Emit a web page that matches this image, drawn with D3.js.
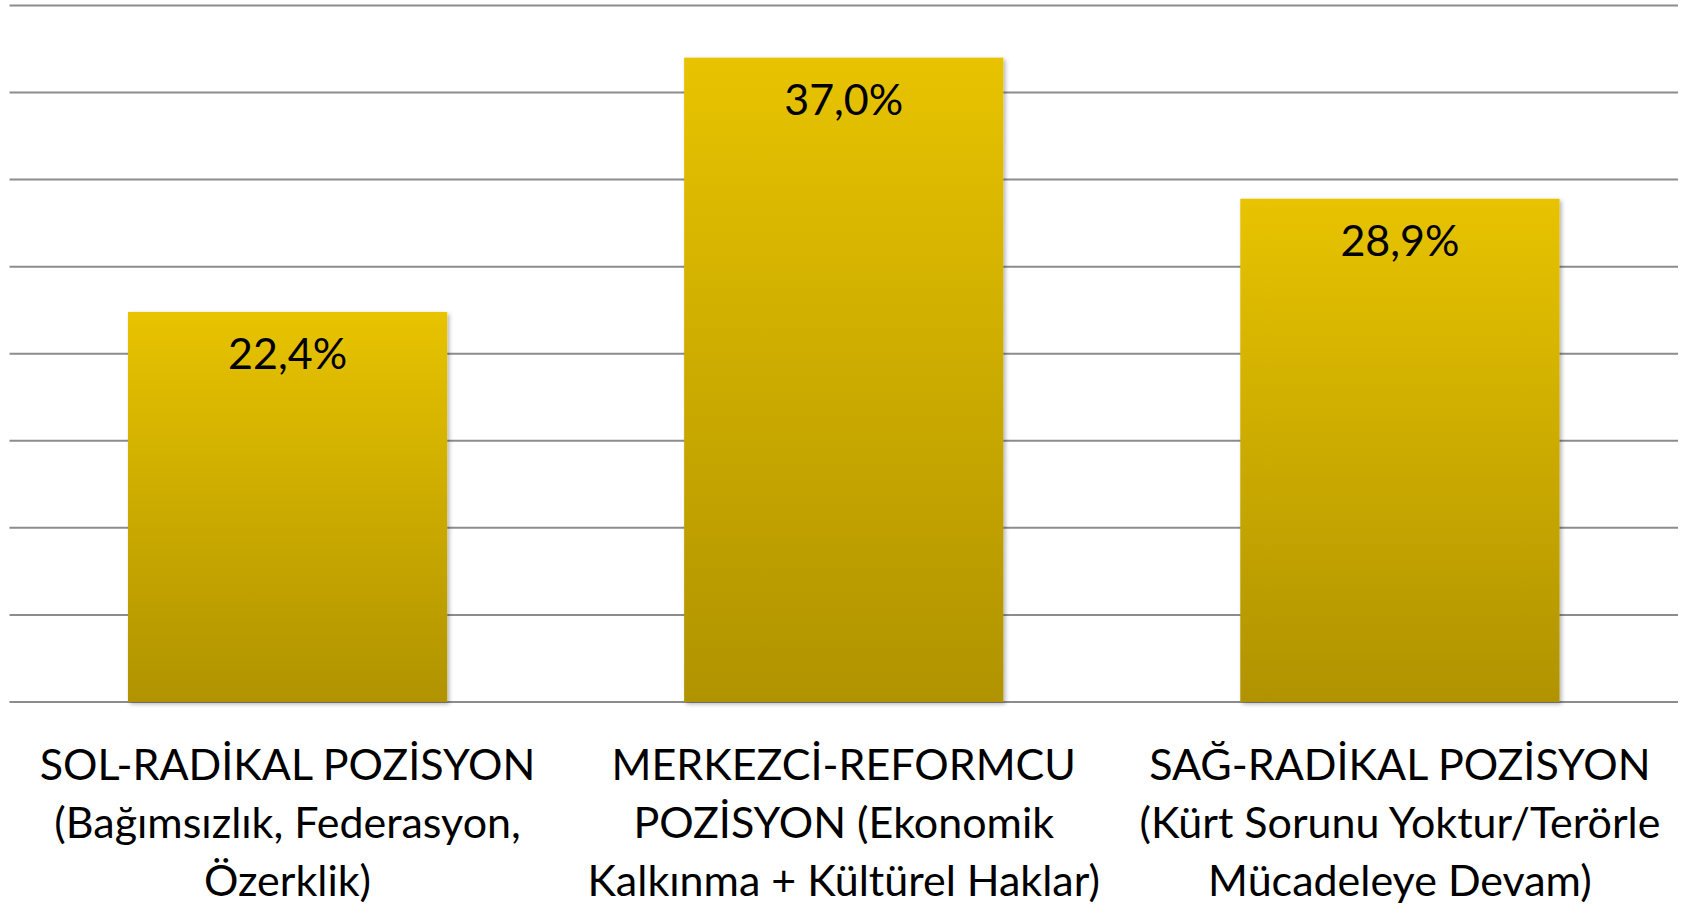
<!DOCTYPE html>
<meta charset="utf-8">
<html>
    <head>
        <script src="https://cdn.jsdelivr.net/npm/d3@7"></script>
        <style>
            body { margin: 0; background: #fff; }
        </style>
    </head>
    <body>
        <div id="viz"></div>
    <script>
        // chart data
        const categories = [
            ["SOL-RADİKAL POZİSYON", "(Bağımsızlık, Federasyon,", "Özerklik)"],
            ["MERKEZCİ-REFORMCU", "POZİSYON (Ekonomik", "Kalkınma + Kültürel Haklar)"],
            ["SAĞ-RADİKAL POZİSYON", "(Kürt Sorunu Yoktur/Terörle", "Mücadeleye Devam)"]
        ];
        const values = [22.4, 37.0, 28.9];
        const valueLabels = ["22,4%", "37,0%", "28,9%"];
        const gridTicks = [0, 5, 10, 15, 20, 25, 30, 35, 40];

        const w = 1689, h = 907;
        const margin = {top: 5.4, bottom: 205, left: 9.5, right: 11};
        const fontFamily = "Lato, 'Open Sans', sans-serif";

        const svg = d3.select("#viz")
            .append("svg")
            .attr("width", w)
            .attr("height", h);

        const x = d3.scaleBand()
            .domain(d3.range(categories.length))
            .range([margin.left, w - margin.right])
            .paddingInner(0.426)
            .paddingOuter(0.213);

        const y = d3.scaleLinear()
            .domain([0, 40])
            .range([h - margin.bottom, margin.top]);

        const defs = svg.append("defs");
        const grad = defs.append("linearGradient")
            .attr("id", "barGrad")
            .attr("x1", 0).attr("y1", 0)
            .attr("x2", 0).attr("y2", 1);
        grad.append("stop").attr("offset", "0%").attr("stop-color", "#e7c300");
        grad.append("stop").attr("offset", "100%").attr("stop-color", "#b09300");

        const shadow = defs.append("filter")
            .attr("id", "shadow")
            .attr("x", "-5%").attr("y", "-5%")
            .attr("width", "115%").attr("height", "115%");
        shadow.append("feDropShadow")
            .attr("dx", 2).attr("dy", 2)
            .attr("stdDeviation", 2)
            .attr("flood-color", "#000")
            .attr("flood-opacity", 0.3);

        // gridlines
        svg.append("g")
            .selectAll("line")
            .data(gridTicks)
            .join("line")
            .attr("x1", margin.left)
            .attr("x2", w - margin.right)
            .attr("y1", d => y(d))
            .attr("y2", d => y(d))
            .attr("stroke", "#8c8c8c")
            .attr("stroke-width", 2);

        // bars
        svg.append("g")
            .selectAll("rect")
            .data(values)
            .join("rect")
            .attr("x", (d, i) => x(i))
            .attr("y", d => y(d))
            .attr("width", x.bandwidth())
            .attr("height", d => y(0) - y(d))
            .attr("fill", "url(#barGrad)")
            .attr("filter", "url(#shadow)");

        // value labels
        svg.append("g")
            .selectAll("text")
            .data(values)
            .join("text")
            .attr("x", (d, i) => x(i) + x.bandwidth() / 2)
            .attr("y", d => y(d) + 57)
            .attr("text-anchor", "middle")
            .attr("font-family", fontFamily)
            .attr("font-size", 43)
            .attr("fill", "#000")
            .text((d, i) => valueLabels[i]);

        // category labels
        const catG = svg.append("g")
            .selectAll("text")
            .data(categories)
            .join("text")
            .attr("text-anchor", "middle")
            .attr("font-family", fontFamily)
            .attr("font-size", 43)
            .attr("fill", "#000");

        catG.selectAll("tspan")
            .data((d, i) => d.map(line => ({line, i})))
            .join("tspan")
            .attr("x", d => x(d.i) + x.bandwidth() / 2)
            .attr("y", (d, j) => y(0) + 78 + j * 58)
            .text(d => d.line);
    </script>
    </body>
</html>
